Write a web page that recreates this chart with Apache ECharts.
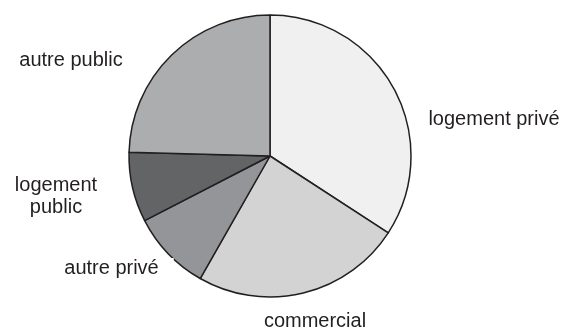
<!DOCTYPE html>
<html>
<head>
<meta charset="utf-8">
<script src="https://cdn.jsdelivr.net/npm/echarts@6/dist/echarts.min.js"></script>
<style>
	html, body { margin: 0; padding: 0; background: #fff; }
	#chart { width: 570px; height: 329px; }
</style>
</head>
<body>
<div id="chart"></div>
<script>
"use strict";

// parts of the pie, clockwise from 12 o'clock
var categories = ['logement privé', 'commercial', 'autre privé', 'logement public', 'autre public'];
var labelTexts = ['logement privé', 'commercial', 'autre privé', 'logement\npublic', 'autre public'];
var shares = [34.2, 24.1, 9.2, 8.0, 24.6];

var sliceColors = ['#f0f0f0', '#d3d3d3', '#939598', '#636466', '#acadaf'];
// where each label box sits (centre), keyed like categories
var labelSpots = [[494, 119], [315, 321], [117, 268], [56, 196], [71, 60]];

var chart = echarts.init(document.getElementById('chart'));

var pieData = [];
for (var i = 0; i < categories.length; i++) {
	var item = {
		name: categories[i],
		value: shares[i],
		itemStyle: { color: sliceColors[i] },
		label: { formatter: labelTexts[i] }
	};
	if (i === 2) {
		// white box behind the label, it bites into the pie edge
		item.label.backgroundColor = '#ffffff';
		item.label.lineHeight = 20;
		item.label.padding = [0, 15, 0, 4];
	}
	pieData.push(item);
}

chart.setOption({
	animation: false,
	series: [{
		type: 'pie',
		center: [270, 156],
		radius: 141,
		startAngle: 90,
		clockwise: true,
		avoidLabelOverlap: false,
		itemStyle: {
			borderColor: '#231f20',
			borderWidth: 1.5
		},
		label: {
			show: true,
			position: 'outside',
			color: '#231f20',
			fontFamily: 'Liberation Sans, Arial, sans-serif',
			fontSize: 20,
			lineHeight: 22,
			align: 'center'
		},
		labelLine: { show: false },
		labelLayout: function(params) {
			var spot = labelSpots[params.dataIndex];
			return {
				x: spot[0],
				y: spot[1],
				align: 'center',
				verticalAlign: 'middle'
			};
		},
		emphasis: { disabled: true },
		data: pieData
	}]
});
</script>
</body>
</html>
